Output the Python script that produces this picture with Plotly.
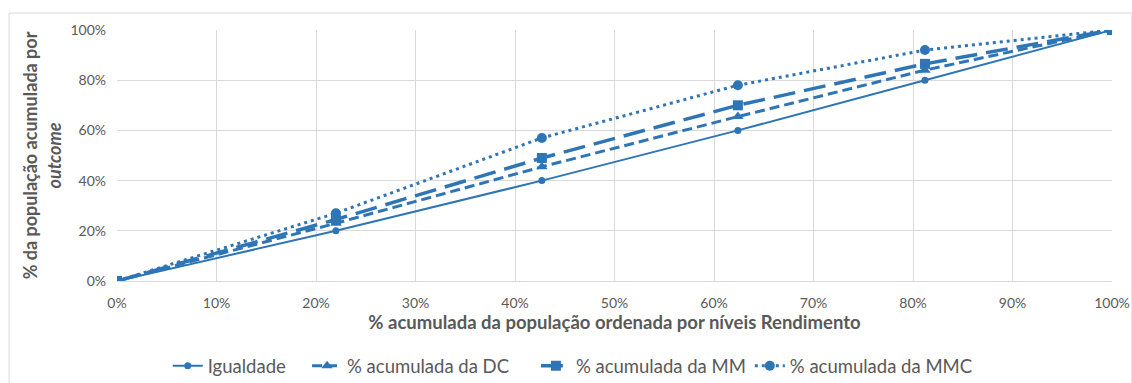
import plotly.graph_objects as go

# Cumulative population share, ordered by income level
pop_share = [0.0, 0.220, 0.427, 0.624, 0.812, 1.0]

# Cumulative outcome shares for each curve
igualdade = [0.0, 0.20, 0.40, 0.60, 0.80, 1.0]
acum_dc = [0.0, 0.23, 0.455, 0.655, 0.84, 1.0]
acum_mm = [0.0, 0.245, 0.49, 0.70, 0.865, 1.0]
acum_mmc = [0.0, 0.27, 0.57, 0.78, 0.92, 1.0]

series_names = ["Igualdade", "% acumulada da DC", "% acumulada da MM", "% acumulada da MMC"]

BLUE = "#2E75B6"
GREY_TXT = "#595959"
GRID = "#D9D9D9"
FONT = "Lato, 'Open Sans', sans-serif"

styles = [
    dict(dash="solid", width=2, symbol="circle", size=7),
    dict(dash="10px,5px", width=3, symbol="triangle-up", size=10),
    dict(dash="22px,9px", width=3.5, symbol="square", size=10),
    dict(dash="3px,4px", width=3, symbol="circle", size=10),
]

legend_ids = ["legend", "legend2", "legend3", "legend4"]
legend_x = [0.051, 0.191, 0.421, 0.636]

fig = go.Figure()
for name, ys, st, lid in zip(series_names, [igualdade, acum_dc, acum_mm, acum_mmc], styles, legend_ids):
    fig.add_trace(go.Scatter(
        x=pop_share, y=ys, name=name, mode="lines+markers",
        line=dict(color=BLUE, width=st["width"], dash=st["dash"]),
        marker=dict(color=BLUE, symbol=st["symbol"], size=st["size"]),
        legend=lid,
    ))

# Light frame around the whole chart area
fig.add_shape(type="rect", xref="paper", yref="paper",
              x0=-0.1085, x1=1.02, y0=-0.41, y1=1.0677,
              line=dict(color=GRID, width=1), fillcolor="rgba(0,0,0,0)", layer="below")

legend_common = dict(orientation="h", xanchor="left", yref="container", y=0.044,
                     yanchor="middle", font=dict(size=18.5, color=GREY_TXT, family=FONT),
                     bgcolor="rgba(0,0,0,0)")
legends = {lid: dict(x=lx, **legend_common) for lid, lx in zip(legend_ids, legend_x)}

fig.update_layout(
    width=1132, height=383,
    margin=dict(l=117, r=20, t=30, b=102, autoexpand=False),
    paper_bgcolor="white", plot_bgcolor="white",
    font=dict(family=FONT, color=GREY_TXT, size=14),
    showlegend=True,
    **legends,
    xaxis=dict(
        range=[0, 1], tickvals=[i / 10 for i in range(11)], tickformat=".0%",
        showgrid=True, gridcolor=GRID, gridwidth=1, zeroline=False,
        showline=True, linecolor=GRID, linewidth=1,
        tickfont=dict(size=14, color=GREY_TXT), ticks="", ticklabelstandoff=9,
        title=dict(text="<b>% acumulada da população ordenada por níveis Rendimento</b>",
                   font=dict(size=18.5, color=GREY_TXT, family=FONT), standoff=6),
        automargin=False, fixedrange=True,
    ),
    yaxis=dict(
        range=[0, 1], tickvals=[i / 5 for i in range(6)], tickformat=".0%",
        showgrid=True, gridcolor=GRID, gridwidth=1, zeroline=False,
        showline=False, ticks="", ticklabelstandoff=10,
        tickfont=dict(size=14, color=GREY_TXT),
        title=dict(text="<b>% da população acumulada por</b><br><b><i>outcome</i></b>",
                   font=dict(size=18, color=GREY_TXT, family=FONT), standoff=4),
        automargin=False, fixedrange=True,
    ),
)

fig.write_html("out.html")
